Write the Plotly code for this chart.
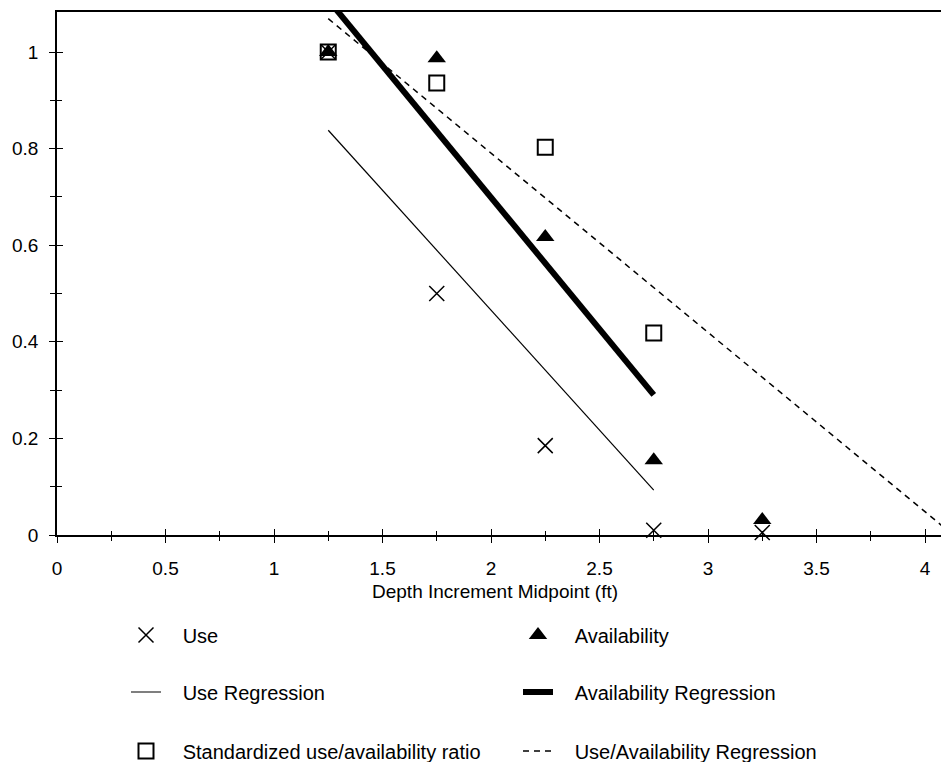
import plotly.graph_objects as go

# ---- data ----
depth = [1.25, 1.75, 2.25, 2.75, 3.25]
use = [1.0, 0.50, 0.185, 0.010, 0.005]
availability = [1.0, 0.987, 0.617, 0.155, 0.031]
ratio_x = [1.25, 1.75, 2.25, 2.75]
ratio = [1.0, 0.936, 0.803, 0.418]

use_reg_x = [1.25, 2.75]
use_reg_y = [0.838, 0.093]
avail_reg_x = [1.25, 2.75]
avail_reg_y = [1.108, 0.290]
ua_reg_x = [1.25, 4.13]
ua_reg_y = [1.069, 0.0]

x_ticks = [0, 0.5, 1, 1.5, 2, 2.5, 3, 3.5, 4]
x_tick_text = ["0", "0.5", "1", "1.5", "2", "2.5", "3", "3.5", "4"]
y_ticks = [0, 0.2, 0.4, 0.6, 0.8, 1.0]
y_tick_text = ["0", "0.2", "0.4", "0.6", "0.8", "1"]

FONT = "Liberation Sans, Arial, sans-serif"
W, H = 941, 762
ML, MR, MT, MB = 57, 0, 12, 227
PW, PH = W - ML - MR, H - MT - MB
PAD = "\u00a0\u00a0\u00a0"  # gap between legend glyph and label
COL1_W = 347


def px_x(p):
    return (p - ML) / PW


def px_y(p):
    return (H - MB - p) / PH


fig = go.Figure()

fig.add_trace(go.Scatter(x=use_reg_x, y=use_reg_y, mode="lines", name=PAD + "Use Regression",
                         line=dict(color="black", width=1.2), legend="legend2", legendrank=1,
                         legendwidth=COL1_W))
fig.add_trace(go.Scatter(x=avail_reg_x, y=avail_reg_y, mode="lines",
                         name=PAD + "Availability Regression",
                         line=dict(color="black", width=6), legend="legend2", legendrank=2))
fig.add_trace(go.Scatter(x=ua_reg_x, y=ua_reg_y, mode="lines",
                         name=PAD + "Use/Availability Regression",
                         line=dict(color="black", width=1.5, dash="6px,5px"), legend="legend3",
                         legendrank=2))
fig.add_trace(go.Scatter(x=ratio_x, y=ratio, mode="markers",
                         name=PAD + "Standardized use/availability ratio",
                         marker=dict(symbol="square-open", size=15, color="black",
                                     line=dict(width=2, color="black")),
                         legend="legend3", legendrank=1, legendwidth=COL1_W, cliponaxis=False))
fig.add_trace(go.Scatter(x=depth, y=availability, mode="markers", name=PAD + "Availability",
                         marker=dict(symbol="triangle-up", size=16, color="black"),
                         legend="legend", legendrank=2, cliponaxis=False))
fig.add_trace(go.Scatter(x=depth, y=use, mode="markers", name=PAD + "Use",
                         marker=dict(symbol="x-thin-open", size=15, color="black",
                                     line=dict(width=1.5, color="black")),
                         legend="legend", legendrank=1, legendwidth=COL1_W, cliponaxis=False))
# dummy trace for the inner half of the crossing ticks
fig.add_trace(go.Scatter(x=[], y=[], xaxis="x2", yaxis="y2", showlegend=False, hoverinfo="skip"))

XR = [0, (W - ML) / 217.0]
YR = [0, (H - MB - MT) / 483.0]

common_tick = dict(tickfont=dict(family=FONT, size=19, color="black"), showgrid=False,
                   zeroline=False, tickcolor="black")
legend_common = dict(orientation="h", xanchor="left", yanchor="middle",
                     bgcolor="rgba(0,0,0,0)", borderwidth=0,
                     font=dict(family=FONT, size=20, color="black"))

fig.update_layout(
    width=W, height=H,
    margin=dict(l=ML, r=MR, t=MT, b=MB, autoexpand=False),
    paper_bgcolor="white", plot_bgcolor="white",
    font=dict(family=FONT, size=19, color="black"),
    xaxis=dict(range=XR, showline=True, linecolor="black", linewidth=1.5, mirror=True,
               ticks="outside", ticklen=6, tickwidth=1, tickvals=x_ticks, ticktext=x_tick_text,
               ticklabelstandoff=9,
               minor=dict(ticks="outside", dtick=0.25, tick0=0, ticklen=4, tickcolor="black"),
               **common_tick),
    yaxis=dict(range=YR, showline=True, linecolor="black", linewidth=1.5,
               ticks="outside", ticklen=6, tickwidth=1, tickvals=y_ticks, ticktext=y_tick_text,
               ticklabelstandoff=7,
               minor=dict(ticks="outside", dtick=0.1, tick0=0, ticklen=5, tickcolor="black"),
               **common_tick),
    xaxis2=dict(range=XR, overlaying="x", anchor="y", showline=False, showticklabels=False,
                ticks="inside", ticklen=6, tickwidth=1, tickvals=x_ticks,
                minor=dict(ticks="inside", dtick=0.25, tick0=0, ticklen=4, tickcolor="black"),
                showgrid=False, zeroline=False, tickcolor="black"),
    yaxis2=dict(range=YR, overlaying="y", anchor="x", side="left", showline=False,
                showticklabels=False, ticks="inside", ticklen=6, tickwidth=1, tickvals=y_ticks,
                minor=dict(ticks="inside", dtick=0.1, tick0=0, ticklen=5, tickcolor="black"),
                showgrid=False, zeroline=False, tickcolor="black"),
    legend=dict(x=px_x(126), y=px_y(635), **legend_common),
    legend2=dict(x=px_x(126), y=px_y(692), **legend_common),
    legend3=dict(x=px_x(126), y=px_y(751), **legend_common),
    annotations=[dict(text="Depth Increment Midpoint (ft)", xref="paper", yref="paper",
                      x=px_x(495), y=px_y(591), xanchor="center", yanchor="middle",
                      showarrow=False, font=dict(family=FONT, size=19, color="black"))],
    showlegend=True,
)

fig.write_html("out.html",
               config={"displayModeBar": False},
               post_script="document.body.style.margin='0px';"
                           "document.body.style.overflow='hidden';")
